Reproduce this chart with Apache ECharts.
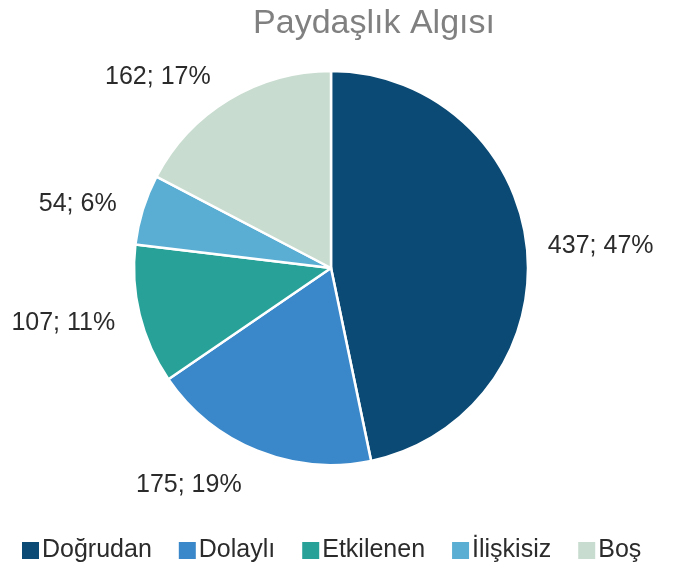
<!DOCTYPE html>
<html>
<head>
<meta charset="utf-8">
<script src="https://cdn.jsdelivr.net/npm/echarts@6/dist/echarts.min.js"></script>
<style>
  html, body { margin: 0; padding: 0; background: #fff; }
  #chart { width: 674px; height: 569px; }
</style>
</head>
<body>
<div id="chart"></div>
<script>
const categories = ["Doğrudan", "Dolaylı", "Etkilenen", "İlişkisiz", "Boş"];
const values = [437, 175, 107, 54, 162];
const colors = ["#0b4a74", "#3a87c9", "#28a299", "#5aaed3", "#c8dccf"];

const myChart = echarts.init(document.getElementById("chart"));

// small nudges so the value labels sit where the original placed them
const labelNudge = [[-6, 0], [0, 18], [2, 4], [0, 0], [0, -7]];

const option = {
  title: {
    text: "Paydaşlık Algısı",
    left: 369,
    textAlign: "center",
    top: 2,
    textStyle: {
      fontFamily: "Liberation Sans",
      fontSize: 34,
      fontWeight: "normal",
      color: "#808080",
    },
  },
  legend: {
    bottom: 1,
    left: 12,
    padding: [5, 5, 5, 8],
    icon: "rect",
    itemWidth: 19,
    itemHeight: 19,
    itemGap: 25,
    textStyle: {
      fontFamily: "Liberation Sans",
      fontSize: 25,
      color: "#2b2b2b",
      padding: [0, 0, 0, -3],
    },
    data: categories,
  },
  series: [
    {
      type: "pie",
      center: [331, 268],
      radius: 197,
      startAngle: 90,
      clockwise: true,
      data: categories.map((c, i) => ({
        name: c,
        value: values[i],
        itemStyle: { color: colors[i] },
      })),
      itemStyle: { borderColor: "#fff", borderWidth: 2.5 },
      label: {
        show: true,
        position: "outside",
        overflow: "none",
        edgeDistance: 4,
        formatter: (p) => p.value + "; " + Math.round(p.percent) + "%",
        fontFamily: "Liberation Sans",
        fontSize: 25,
        color: "#2b2b2b",
      },
      labelLine: { show: false, length: 18, length2: 4 },
      labelLayout: (p) => ({ dx: labelNudge[p.dataIndex][0], dy: labelNudge[p.dataIndex][1] }),
      emphasis: { disabled: true },
    },
  ],
};

myChart.setOption(option);
</script>
</body>
</html>
